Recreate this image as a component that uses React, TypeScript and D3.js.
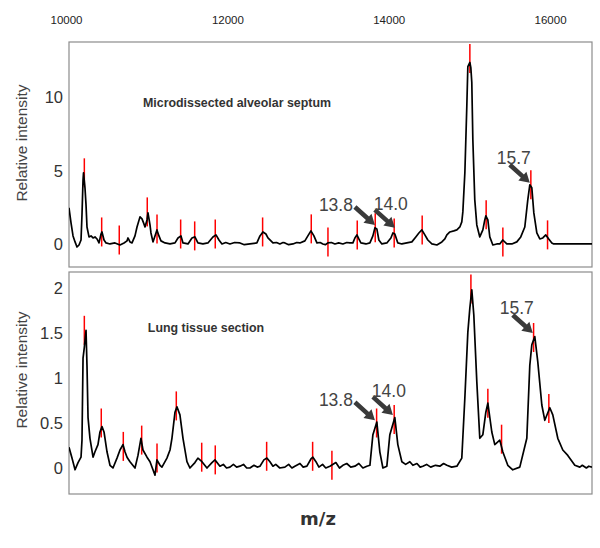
import { useEffect, useRef } from "react"
import * as d3 from "d3"

// m/z tick labels along the top
const mzTicks = [10000, 12000, 14000, 16000]
const topYTicks = [0, 5, 10]
const bottomYTicks = [0, 0.5, 1, 1.5, 2]

// [m/z, relative intensity]
const topSpectrum: [number, number][] = [
    [10037, 2.47], [10062, 1.44], [10087, 0.55], [10112, 0.14], [10136, -0.21], [10161, -0.07],
    [10186, 0.27], [10198, 1.99], [10211, 4.38], [10217, 4.86], [10235, 3.84], [10248, 2.67],
    [10260, 1.16], [10285, 0.48], [10310, 0.55], [10335, 0.41], [10359, 0.48], [10384, 0.34],
    [10409, 0.07], [10434, 0.68], [10446, 0.82], [10471, 0.27], [10496, 0.07], [10545, 0],
    [10607, 0.07], [10669, -0.07], [10719, 0.07], [10756, 0.21], [10768, 0.41], [10793, 0.14],
    [10818, 0.07], [10855, 0.55], [10880, 1.16], [10917, 1.85], [10942, 1.71], [10966, 1.37],
    [10979, 1.16], [11004, 1.64], [11016, 2.12], [11041, 1.3], [11053, 0.75], [11078, 0.14],
    [11103, 0.55], [11127, 0.96], [11152, 0.55], [11177, 0.21], [11227, 0.07], [11289, 0],
    [11351, 0.07], [11388, 0.41], [11425, 0.55], [11450, 0.07], [11512, 0], [11561, 0.41],
    [11598, 0.48], [11635, 0.07], [11697, 0], [11759, 0.07], [11821, 0.48], [11859, 0.62],
    [11896, 0.27], [11933, 0], [11980, 0.1], [12032, 0], [12090, 0.1], [12156, 0.07],
    [12210, -0.05], [12280, 0], [12366, 0.07],
    [12404, 0.55], [12441, 0.82], [12478, 0.68], [12503, 0.41], [12565, 0.07], [12610, 0.1],
    [12651, 0], [12690, 0.1], [12713, 0.07], [12760, -0.05], [12813, 0], [12860, 0.1],
    [12899, 0.07], [12961, 0.21], [12998, 0.55], [13036, 0.89],
    [13073, 0.55], [13110, 0.07], [13150, 0.1], [13184, 0], [13215, -0.05], [13246, 0.07],
    [13290, 0.1], [13333, 0], [13380, 0.07], [13432, 0], [13480, 0.1],
    [13519, 0.07], [13556, 0.07], [13581, 0.41], [13606, 0.62], [13630, 0.34], [13655, 0.07],
    [13717, 0], [13767, 0.07], [13804, 0.55], [13829, 1.1], [13853, 1.03], [13878, 0.27],
    [13915, 0], [13977, 0.07], [14027, 0.41], [14052, 0.75], [14076, 0.68], [14113, 0.07],
    [14163, 0], [14225, 0.07], [14287, 0.14], [14336, 0.48], [14374, 0.75], [14411, 0.96],
    [14448, 0.62], [14485, 0.27], [14535, 0], [14597, -0.07], [14659, 0.14], [14696, 0.34],
    [14721, 0.62], [14758, 0.82], [14807, 0.89], [14845, 0.96], [14882, 1.16], [14906, 1.51],
    [14919, 2.19], [14944, 4.86], [14968, 9.38], [14981, 12.12], [15006, 12.4], [15018, 12.05],
    [15030, 11.03], [15043, 7.12], [15067, 3.01], [15092, 1.3], [15129, 0.48], [15167, 0.96],
    [15191, 1.64], [15204, 1.92], [15229, 1.64], [15253, 0.48], [15291, -0.07], [15340, 0],
    [15377, 0], [15414, 0.27], [15464, 0], [15526, 0], [15588, 0.14], [15637, 0.48],
    [15687, 1.16], [15724, 3.01], [15749, 4.04], [15774, 3.84], [15799, 2.12], [15836, 0.75],
    [15873, 0.34], [15910, 0.41], [15947, 0.62], [15984, 0.34], [16022, 0.07], [16046, 0],
    [16121, 0], [16245, 0], [16368, 0], [16520, 0],
]

// [m/z, relative intensity]
const bottomSpectrum: [number, number][] = [
    [10037, 0.23], [10074, 0.11], [10112, -0.02], [10149, 0.06], [10186, 0.12], [10198, 0.31],
    [10211, 1.22], [10227, 1.34], [10248, 1.53], [10260, 1.14], [10273, 0.56], [10297, 0.33],
    [10335, 0.12], [10359, 0.18], [10396, 0.26], [10421, 0.4], [10446, 0.46], [10471, 0.4],
    [10508, 0.18], [10545, 0.03], [10582, 0], [10632, 0.11], [10669, 0.2], [10706, 0.26],
    [10731, 0.18], [10756, 0.12], [10793, 0.07], [10855, 0], [10892, 0.14], [10929, 0.33],
    [10954, 0.2], [11004, 0.12], [11041, 0.07], [11078, -0.02], [11103, -0.08], [11127, 0.09],
    [11165, 0.03], [11189, 0.01], [11251, 0.11], [11289, 0.2], [11313, 0.33], [11351, 0.62],
    [11375, 0.68], [11412, 0.59], [11450, 0.33], [11499, 0.07], [11536, 0], [11598, 0.06],
    [11635, 0.11], [11685, 0.07], [11747, 0], [11809, 0.06], [11846, 0.09], [11908, 0.02],
    [11950, 0.04], [11990, 0], [12032, 0.01], [12075, 0.04], [12115, 0.01], [12156, 0.02],
    [12200, 0.04], [12240, 0], [12280, 0], [12330, 0.03], [12370, 0.01], [12404, 0.02],
    [12453, 0.09], [12490, 0.11], [12528, 0.07], [12565, 0.02], [12600, 0.04], [12650, 0],
    [12713, 0.01], [12760, 0.04], [12800, 0], [12837, 0.02], [12900, 0.05], [12940, 0.01],
    [12986, 0.02], [13036, 0.1], [13060, 0.12], [13098, 0.07], [13135, 0.01], [13180, 0.04],
    [13220, 0], [13271, 0.02], [13345, 0.06], [13390, 0], [13432, 0.03], [13480, 0.05],
    [13530, 0.01], [13581, 0.02], [13630, 0.05], [13680, 0], [13729, 0.02], [13767, 0.03],
    [13804, 0.37], [13853, 0.51], [13890, 0.18],
    [13928, 0], [13977, 0.02], [14014, 0.37], [14076, 0.56], [14113, 0.26], [14163, 0.07],
    [14210, 0.04], [14262, 0.07], [14300, 0.03], [14350, 0.05], [14390, 0.01], [14423, 0.02],
    [14470, 0.04], [14520, 0.01], [14580, 0.03], [14634, 0.02], [14680, 0.05], [14721, 0.03],
    [14780, 0.01], [14845, 0.02], [14906, 0.11],
    [14944, 0.78], [14981, 1.51], [15006, 1.78], [15030, 1.98], [15055, 1.7], [15092, 0.96],
    [15129, 0.33], [15167, 0.37], [15204, 0.62], [15229, 0.72], [15278, 0.4], [15315, 0.26],
    [15377, 0.31], [15414, 0.18], [15476, 0.03], [15538, -0.02], [15625, 0.01], [15712, 0.33],
    [15749, 1.14], [15774, 1.37], [15811, 1.46], [15848, 1.18], [15898, 0.7], [15935, 0.53],
    [15997, 0.67], [16034, 0.59], [16096, 0.33], [16158, 0.2], [16220, 0.14], [16307, 0.03],
    [16369, 0.01], [16400, 0.03], [16450, 0], [16480, 0.02], [16520, 0.01],
]

// detected peaks (red markers)
const topPeaks: [number, number][] = [
    [10227, 4.86], [10442, 0.82], [10660, 0.27], [11007, 2.19], [11128, 1.03], [11421, 0.68],
    [11595, 0.55], [11850, 0.68], [12437, 0.82], [13040, 1.03], [13247, 0.14], [13610, 0.62],
    [13833, 1.1], [14068, 0.75], [14415, 0.96], [15006, 12.67], [15208, 1.99], [15415, 0.14],
    [15762, 4.04], [15969, 0.62],
]
const bottomPeaks: [number, number][] = [
    [10227, 1.53], [10437, 0.5], [10710, 0.24], [10938, 0.31], [11128, 0.11], [11367, 0.69],
    [11682, 0.12], [11850, 0.09], [12487, 0.13], [13057, 0.13], [13296, 0.03], [13850, 0.5],
    [14068, 0.54], [15019, 1.99], [15229, 0.72], [15399, 0.32], [15796, 1.45], [15985, 0.66],
]

// arrow labels (kDa) and where the arrows point
const annotationLabels = ["13.8", "14.0", "15.7"]
const topArrowTips: [number, number][] = [[13829, 1.3], [14076, 1.1], [15749, 4.18]]
const bottomArrowTips: [number, number][] = [[13829, 0.53], [14052, 0.59], [15786, 1.5]]

export default function App() {
    const ref = useRef<SVGSVGElement>(null)

    useEffect(() => {
        const svg = d3.select(ref.current)
        svg.selectAll("*").remove()

        const left = 69
        const right = 592
        const font = "'Liberation Sans', Arial, Helvetica, sans-serif"

        const x = d3.scaleLinear().domain([10037, 16520]).range([left, right])

        // m/z labels on top, no tick marks
        const topAxis = svg.append("g")
            .attr("transform", "translate(0,27)")
            .call(d3.axisTop(x).tickValues(mzTicks).tickSize(0).tickPadding(3).tickFormat(d3.format("d")))
        topAxis.select(".domain").remove()
        topAxis.selectAll("text")
            .attr("font-family", font)
            .attr("font-size", 11.5)
            .attr("fill", "#222")

        const panels = [
            {
                key: "top", y0: 42, y1: 267, domain: [-1.575, 13.8], ticks: topYTicks,
                spectrum: topSpectrum, peaks: topPeaks, tips: topArrowTips,
                title: "Microdissected alveolar septum", titleX: 237, titleY: 103, axisY: 143,
            },
            {
                key: "bottom", y0: 272, y1: 494, domain: [-0.289, 2.178], ticks: bottomYTicks,
                spectrum: bottomSpectrum, peaks: bottomPeaks, tips: bottomArrowTips,
                title: "Lung tissue section", titleX: 206, titleY: 328, axisY: 370,
            },
        ]

        const labelOffset: Record<string, [number, number]> = {
            "13.8": [-39, -20],
            "14.0": [-4, -24],
            "15.7": [-16, -25],
        }

        panels.forEach(p => {
            const y = d3.scaleLinear().domain(p.domain).range([p.y1, p.y0])

            svg.append("clipPath")
                .attr("id", `clip-${p.key}`)
                .append("rect")
                .attr("x", left)
                .attr("y", p.y0)
                .attr("width", right - left)
                .attr("height", p.y1 - p.y0)

            svg.append("rect")
                .attr("x", left)
                .attr("y", p.y0)
                .attr("width", right - left)
                .attr("height", p.y1 - p.y0)
                .attr("fill", "none")
                .attr("stroke", "#8c8c8c")
                .attr("stroke-width", 1.2)

            const yAxis = svg.append("g")
                .attr("transform", `translate(${left},0)`)
                .call(d3.axisLeft(y).tickValues(p.ticks).tickSize(0).tickPadding(6).tickFormat(d3.format("~g")))
            yAxis.select(".domain").remove()
            yAxis.selectAll("text")
                .attr("font-family", font)
                .attr("font-size", 16.5)
                .attr("fill", "#333")

            svg.append("text")
                .attr("transform", `translate(22,${p.axisY}) rotate(-90)`)
                .attr("text-anchor", "middle")
                .attr("dy", "0.35em")
                .attr("font-family", font)
                .attr("font-size", 15.5)
                .attr("fill", "#444")
                .text("Relative intensity")

            svg.append("text")
                .attr("x", p.titleX)
                .attr("y", p.titleY)
                .attr("dy", "0.35em")
                .attr("text-anchor", "middle")
                .attr("font-family", font)
                .attr("font-weight", "bold")
                .attr("font-size", 12.4)
                .attr("fill", "#333")
                .text(p.title)

            const plot = svg.append("g").attr("clip-path", `url(#clip-${p.key})`)

            plot.append("g")
                .selectAll("line")
                .data(p.peaks)
                .join("line")
                .attr("x1", d => x(d[0]))
                .attr("x2", d => x(d[0]))
                .attr("y1", d => y(d[1]) - 14.5)
                .attr("y2", d => y(d[1]) + 14.5)
                .attr("stroke", "#ff0000")
                .attr("stroke-width", 1.5)

            const line = d3.line<[number, number]>()
                .x(d => x(d[0]))
                .y(d => y(d[1]))

            plot.append("path")
                .datum(p.spectrum)
                .attr("fill", "none")
                .attr("stroke", "#000")
                .attr("stroke-width", 1.7)
                .attr("stroke-linejoin", "round")
                .attr("d", line)

            // arrows with kDa labels
            p.tips.forEach((t, i) => {
                const label = annotationLabels[i]
                const tx = x(t[0])
                const ty = y(t[1])
                const sx = tx - 20
                const sy = ty - 18
                const len = Math.hypot(tx - sx, ty - sy)
                const ux = (tx - sx) / len
                const uy = (ty - sy) / len
                const nx = -uy
                const ny = ux
                const shaft = 2.3
                const head = 6
                const headLen = 10
                const bx = tx - ux * headLen
                const by = ty - uy * headLen
                const pts: [number, number][] = [
                    [sx + nx * shaft, sy + ny * shaft],
                    [bx + nx * shaft, by + ny * shaft],
                    [bx + nx * head, by + ny * head],
                    [tx, ty],
                    [bx - nx * head, by - ny * head],
                    [bx - nx * shaft, by - ny * shaft],
                    [sx - nx * shaft, sy - ny * shaft],
                ]
                svg.append("path")
                    .attr("d", "M" + pts.map(q => q.join(",")).join("L") + "Z")
                    .attr("fill", "#3a3a3a")

                const off = labelOffset[label]
                svg.append("text")
                    .attr("x", tx + off[0])
                    .attr("y", ty + off[1])
                    .attr("dy", "0.35em")
                    .attr("text-anchor", "middle")
                    .attr("font-family", font)
                    .attr("font-size", 17.5)
                    .attr("fill", "#444")
                    .text(label)
            })
        })

        svg.append("text")
            .attr("x", 318)
            .attr("y", 519)
            .attr("dy", "0.35em")
            .attr("text-anchor", "middle")
            .attr("font-family", "'DejaVu Sans', Verdana, sans-serif")
            .attr("font-weight", "bold")
            .attr("font-size", 18)
            .attr("fill", "#333")
            .text("m/z")
    }, [])

    return (
        <svg
            ref={ref}
            width={600}
            height={548}
            style={{ position: "absolute", left: 0, top: 0, background: "#fff" }}
        />
    )
}
